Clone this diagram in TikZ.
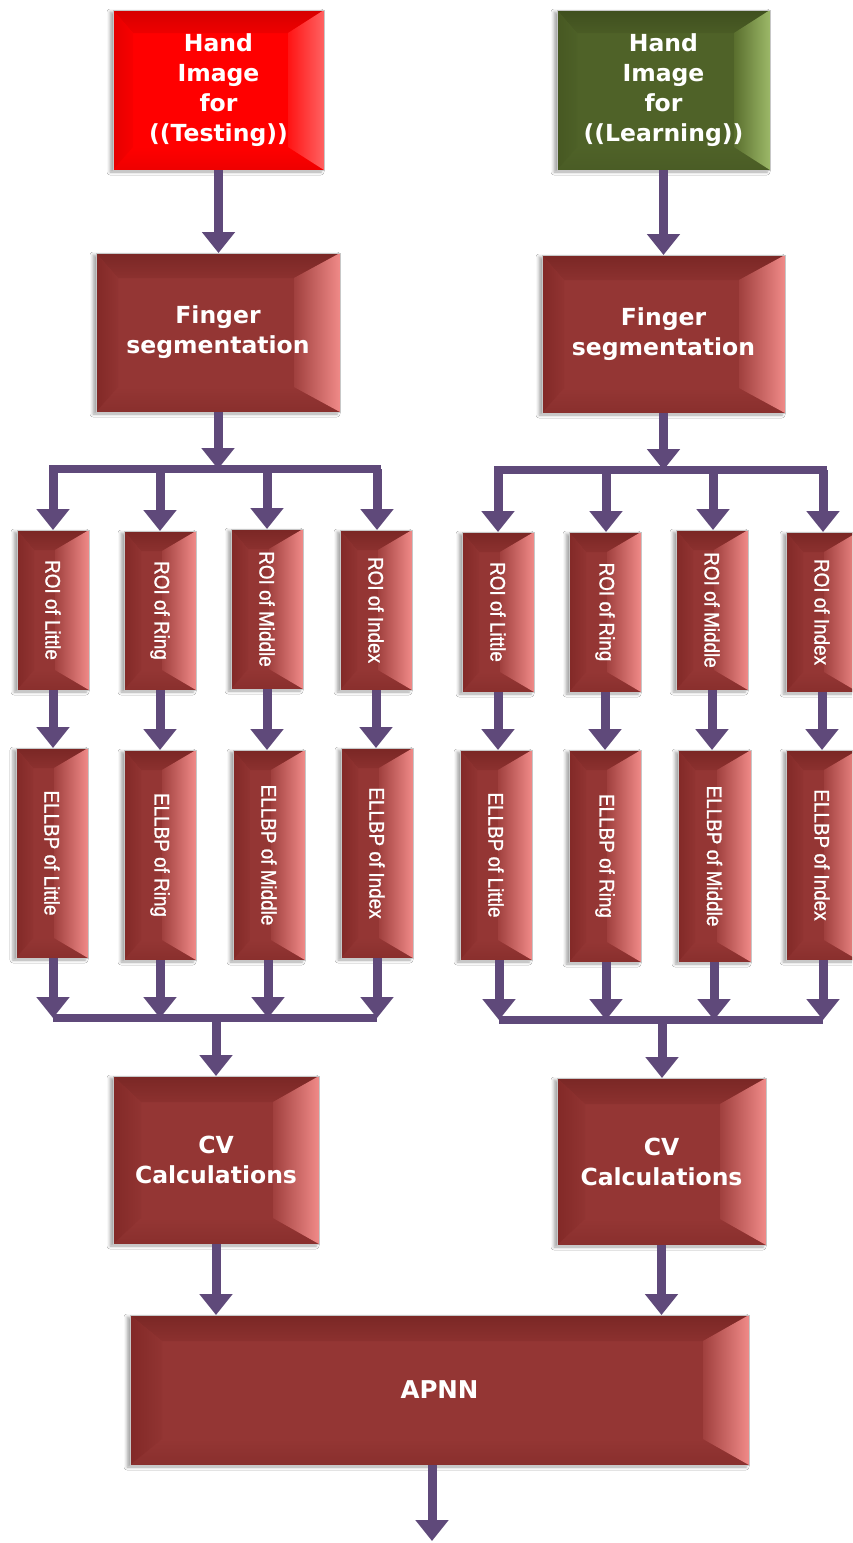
\documentclass[tikz,border=0pt]{standalone}
\usepackage{fontspec}
\usepackage{graphicx}
\usetikzlibrary{arrows.meta,calc,shadows.blur}
\newfontfamily\boxfont{DejaVu Sans}
\newfontfamily\rotfont{Liberation Sans}[FakeBold=1.2]
\definecolor{purp}{HTML}{5F497A}
% brown palette
\definecolor{brFace}{HTML}{943634}
\definecolor{brTop}{HTML}{7A2725}
\definecolor{brTopIn}{HTML}{8C312F}
\definecolor{brBot}{HTML}{892F2D}
\definecolor{brLeft}{HTML}{822927}
\definecolor{brLeftIn}{HTML}{913432}
\definecolor{brRin}{HTML}{A0403E}
\definecolor{brRout}{HTML}{F08A88}
% red palette
\definecolor{rdFace}{HTML}{FF0000}
\definecolor{rdTop}{HTML}{D60000}
\definecolor{rdTopIn}{HTML}{EE0000}
\definecolor{rdBot}{HTML}{EE0000}
\definecolor{rdLeft}{HTML}{E40000}
\definecolor{rdLeftIn}{HTML}{F80000}
\definecolor{rdRin}{HTML}{FF1414}
\definecolor{rdRout}{HTML}{FF6262}
% green palette
\definecolor{grFace}{HTML}{4F6228}
\definecolor{grTop}{HTML}{3F4F1E}
\definecolor{grTopIn}{HTML}{4A5C25}
\definecolor{grBot}{HTML}{4A5C25}
\definecolor{grLeft}{HTML}{475822}
\definecolor{grLeftIn}{HTML}{4D6027}
\definecolor{grRin}{HTML}{5A6F2E}
\definecolor{grRout}{HTML}{9CB868}
\tikzset{
  boxbase/.style={rectangle, inner sep=0pt, outer sep=0pt,
    blur shadow={shadow xshift=-3pt, shadow yshift=-2pt, shadow opacity=35, shadow blur radius=3pt}},
  boxedge/.style={draw=black!22, line width=0.6pt},
  htxt/.style={text=white, align=center, inner sep=0pt,
    font=\boxfont\bfseries\fontsize{23.5}{30}\selectfont},
  rtxt/.style={text=white, rotate=-90, inner sep=0pt,
    font=\rotfont\fontsize{21}{25}\selectfont},
  arr/.style={draw=purp, line width=9pt, -{Triangle[width=32pt,length=21pt]}},
  bus/.style={draw=purp, line width=8pt},
}
% name, cx, cy, w, h, palette
\newcommand\bevbox[6]{%
  \node[boxbase, fill=#6Face, minimum width=#4pt, minimum height=#5pt] (#1) at (#2,-#3) {};
  \shade[top color=#6Top, bottom color=#6TopIn] (#1.north west) -- (#1.north east) -- ($(#1.north east)+(-\bvr,-\bvt)$) -- ($(#1.north west)+(\bvl,-\bvt)$) -- cycle;
  \shade[bottom color=#6Bot, top color=#6Face] (#1.south west) -- (#1.south east) -- ($(#1.south east)+(-\bvr,\bvb)$) -- ($(#1.south west)+(\bvl,\bvb)$) -- cycle;
  \shade[left color=#6Left, right color=#6LeftIn] (#1.north west) -- ($(#1.north west)+(\bvl,-\bvt)$) -- ($(#1.south west)+(\bvl,\bvb)$) -- (#1.south west) -- cycle;
  \shade[left color=#6Rin, right color=#6Rout] (#1.north east) -- ($(#1.north east)+(-\bvr,-\bvt)$) -- ($(#1.south east)+(-\bvr,\bvb)$) -- (#1.south east) -- cycle;
  \draw[boxedge] (#1.north west) rectangle (#1.south east);
}
\begin{document}
\begin{tikzpicture}[x=1pt,y=1pt]
\path[use as bounding box] (0,0) rectangle (852,-1543);
\clip (0,0) rectangle (852,-1543);
\fill[white] (0,0) rectangle (852,-1543);

% ---- top boxes
\def\bvl{20}\def\bvr{36}\def\bvt{23}\def\bvb{23}
\bevbox{test}{218.5}{90}{211}{160}{rd}
\bevbox{learn}{663.5}{90}{213}{160}{gr}
\node[htxt] (testt) at (test) {Hand\\Image\\for\\((Testing))};
\node[htxt] (learnt) at (learn) {Hand\\Image\\for\\((Learning))};

% ---- finger segmentation
\def\bvl{22}\def\bvr{46}\def\bvt{25}\def\bvb{25}
\bevbox{segL}{218}{332.5}{244}{159}{br}
\bevbox{segR}{663.5}{334}{243}{158}{br}
\node[htxt] (segLt) at (segL) {Finger\\segmentation};
\node[htxt] (segRt) at (segR) {Finger\\segmentation};

% ---- ROI boxes
\def\bvl{17}\def\bvr{34}\def\bvt{20}\def\bvb{20}
\bevbox{roiL1}{53}{610}{72}{160}{br}
\bevbox{roiL2}{160}{610.5}{72}{159}{br}
\bevbox{roiL3}{267}{609}{72}{160}{br}
\bevbox{roiL4}{376}{610}{72}{160}{br}
\bevbox{roiR1}{498}{612}{72}{160}{br}
\bevbox{roiR2}{605}{612}{72}{160}{br}
\bevbox{roiR3}{712}{610}{72}{160}{br}
\bevbox{roiR4}{822}{612}{72}{160}{br}
\node[rtxt] (roiL1t) at (roiL1) {\scalebox{0.9}[1]{ROI of Little}};
\node[rtxt] (roiL2t) at (roiL2) {\scalebox{0.9}[1]{ROI of Ring}};
\node[rtxt] (roiL3t) at (roiL3) {\scalebox{0.9}[1]{ROI of Middle}};
\node[rtxt] (roiL4t) at (roiL4) {\scalebox{0.9}[1]{ROI of Index}};
\node[rtxt] (roiR1t) at (roiR1) {\scalebox{0.9}[1]{ROI of Little}};
\node[rtxt] (roiR2t) at (roiR2) {\scalebox{0.9}[1]{ROI of Ring}};
\node[rtxt] (roiR3t) at (roiR3) {\scalebox{0.9}[1]{ROI of Middle}};
\node[rtxt] (roiR4t) at (roiR4) {\scalebox{0.9}[1]{ROI of Index}};

% ---- ELLBP boxes
\bevbox{elL1}{52}{853}{72}{210}{br}
\bevbox{elL2}{160}{855}{72}{210}{br}
\bevbox{elL3}{269}{855}{72}{210}{br}
\bevbox{elL4}{377}{853}{72}{210}{br}
\bevbox{elR1}{496}{855}{72}{210}{br}
\bevbox{elR2}{605}{856}{72}{212}{br}
\bevbox{elR3}{714.5}{856}{73}{212}{br}
\bevbox{elR4}{822}{855}{72}{210}{br}
\node[rtxt] (elL1t) at (elL1) {\scalebox{0.9}[1]{ELLBP of Little}};
\node[rtxt] (elL2t) at (elL2) {\scalebox{0.9}[1]{ELLBP of Ring}};
\node[rtxt] (elL3t) at (elL3) {\scalebox{0.9}[1]{ELLBP of Middle}};
\node[rtxt] (elL4t) at (elL4) {\scalebox{0.9}[1]{ELLBP of Index}};
\node[rtxt] (elR1t) at (elR1) {\scalebox{0.9}[1]{ELLBP of Little}};
\node[rtxt] (elR2t) at (elR2) {\scalebox{0.9}[1]{ELLBP of Ring}};
\node[rtxt] (elR3t) at (elR3) {\scalebox{0.9}[1]{ELLBP of Middle}};
\node[rtxt] (elR4t) at (elR4) {\scalebox{0.9}[1]{ELLBP of Index}};

% ---- CV boxes
\def\bvl{28}\def\bvr{46}\def\bvt{26}\def\bvb{26}
\bevbox{cvL}{216}{1160}{206}{168}{br}
\bevbox{cvR}{661.5}{1161.5}{209}{167}{br}
\node[htxt] (cvLt) at (cvL) {CV\\Calculations};
\node[htxt] (cvRt) at (cvR) {CV\\Calculations};

% ---- APNN
\def\bvl{32}\def\bvr{46}\def\bvt{26}\def\bvb{26}
\bevbox{apnn}{439.5}{1390}{619}{150}{br}
\node[htxt, font=\boxfont\bfseries\fontsize{24.5}{30}\selectfont] (apnnt) at (apnn) {APNN};

% ---- connectors, top
\draw[arr] (test.south) -- (test.south |- segL.north);
\draw[arr] (learn.south) -- (learn.south |- segR.north);

\coordinate (tL) at (218,-469);
\coordinate (bL1) at (53,-469);
\coordinate (bL2) at (160,-469);
\coordinate (bL3) at (267,-469);
\coordinate (bL4) at (377,-469);
\draw[arr] (segL.south) -- (tL);
\draw[bus, line cap=rect] (bL1) -- (bL4);
\foreach \i in {1,2,3,4}{\draw[arr] (bL\i) -- (bL\i |- roiL\i.north);}

\coordinate (tR) at (663.5,-470);
\coordinate (bR1) at (498,-470);
\coordinate (bR2) at (606,-470);
\coordinate (bR3) at (713,-470);
\coordinate (bR4) at (823,-470);
\draw[arr] (segR.south) -- (tR);
\draw[bus, line cap=rect] (bR1) -- (bR4);
\foreach \i in {1,2,3,4}{\draw[arr] (bR\i) -- (bR\i |- roiR\i.north);}

% ---- ROI -> ELLBP
\foreach \i in {1,2,3,4}{
  \draw[arr] (roiL\i.south) -- (roiL\i.south |- elL\i.north);
  \draw[arr] (roiR\i.south) -- (roiR\i.south |- elR\i.north);
}

% ---- ELLBP -> bottom buses
\coordinate (cL1) at (53,-1018);
\coordinate (cL2) at (160,-1018);
\coordinate (cL3) at (268,-1018);
\coordinate (cL4) at (377,-1018);
\coordinate (cLc) at (216,-1018);
\foreach \i in {1,2,3,4}{\draw[arr] (cL\i |- elL\i.south) -- (cL\i);}
\draw[bus] (cL1) -- (cL4);
\draw[arr] (cLc) -- (cLc |- cvL.north);

\coordinate (cR1) at (499,-1020);
\coordinate (cR2) at (606,-1020);
\coordinate (cR3) at (714,-1020);
\coordinate (cR4) at (823,-1020);
\coordinate (cRc) at (662,-1020);
\foreach \i in {1,2,3,4}{\draw[arr] (cR\i |- elR\i.south) -- (cR\i);}
\draw[bus] (cR1) -- (cR4);
\draw[arr] (cRc) -- (cRc |- cvR.north);

% ---- CV -> APNN -> out
\draw[arr] (cvL.south) -- (cvL.south |- apnn.north);
\draw[arr] (cvR.south) -- (cvR.south |- apnn.north);
\coordinate (outp) at (432,-1541);
\draw[arr] (apnn.south -| outp) -- (outp);
\end{tikzpicture}
\end{document}
